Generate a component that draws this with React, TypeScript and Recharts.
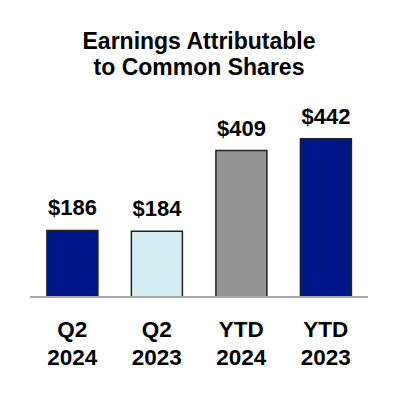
import { Bar, BarChart, Cell, LabelList, XAxis, YAxis } from "recharts";

const periods = ["Q2", "Q2", "YTD", "YTD"];
const years = ["2024", "2023", "2024", "2023"];
const earnings = [186, 184, 409, 442];
const barColors = ["#00178A", "#D4EFF4", "#949494", "#00178A"];
const titleLines = ["Earnings Attributable", "to Common Shares"];

const data = periods.map((p, i) => ({
  key: `${p} ${years[i]}`,
  period: p,
  year: years[i],
  value: earnings[i],
}));

const font = "'Liberation Sans', Arial, sans-serif";

const TwoLineTick = (props: any) => {
  const { x, y, index } = props;
  return (
    <text
      x={x}
      y={y}
      textAnchor="middle"
      fontFamily={font}
      fontWeight="bold"
      fontSize={22.5}
      fill="#000"
    >
      <tspan x={x} dy={39.5}>
        {periods[index]}
      </tspan>
      <tspan x={x} dy={28}>
        {years[index]}
      </tspan>
    </text>
  );
};

export default function App() {
  return (
    <div
      style={{
        position: "absolute",
        left: 0,
        top: 0,
        width: 398,
        height: 400,
        background: "#fff",
      }}
    >
      <div
        style={{
          position: "absolute",
          top: 27.5,
          left: 0,
          width: 398,
          textAlign: "center",
          fontFamily: font,
          fontWeight: "bold",
          fontSize: 23,
          lineHeight: "26px",
          color: "#000",
        }}
      >
        {titleLines.map((t) => (
          <div key={t}>{t}</div>
        ))}
      </div>
      <BarChart
        width={398}
        height={400}
        data={data}
        margin={{ top: 118, right: 30, bottom: 0, left: 30 }}
        barCategoryGap="20%"
      >
        <YAxis hide domain={[0, 500]} />
        <XAxis
          dataKey="key"
          height={103}
          tickLine={false}
          tickSize={0}
          tickMargin={0}
          axisLine={{ stroke: "#A8A8A8", strokeWidth: 2 }}
          tick={<TwoLineTick />}
          interval={0}
        />
        <Bar
          dataKey="value"
          isAnimationActive={false}
          stroke="#222"
          strokeWidth={1.5}
        >
          {data.map((d, i) => (
            <Cell key={d.key} fill={barColors[i]} />
          ))}
          <LabelList
            dataKey="value"
            position="top"
            offset={15}
            formatter={(v: any) => `$${v}`}
            fontFamily={font}
            fontWeight="bold"
            fontSize={22}
            fill="#000"
          />
        </Bar>
      </BarChart>
    </div>
  );
}
